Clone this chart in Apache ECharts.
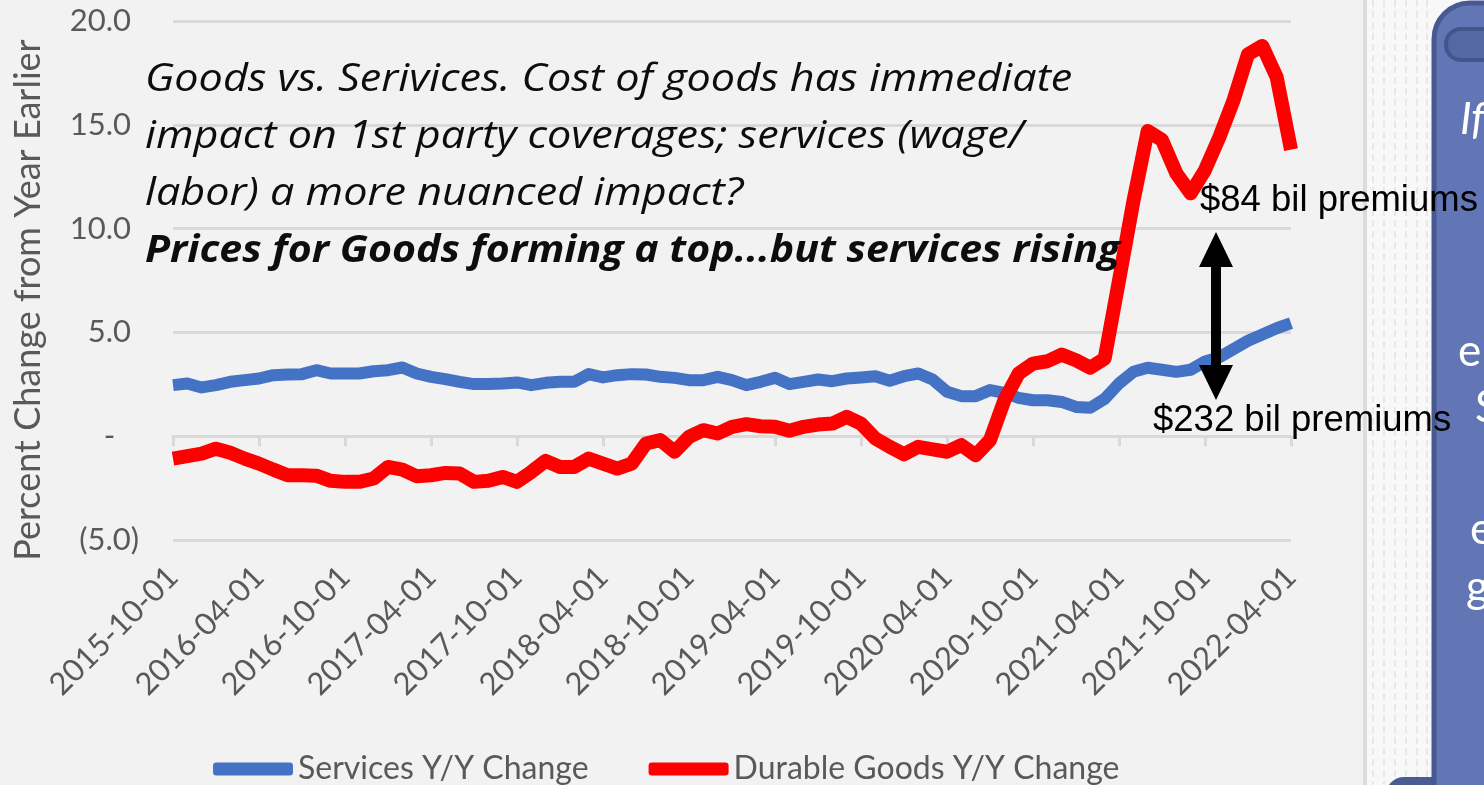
<!DOCTYPE html>
<html>
<head>
<meta charset="utf-8">
<script src="https://cdn.jsdelivr.net/npm/echarts@6/dist/echarts.min.js"></script>
<style>
  html, body { margin: 0; padding: 0; background: #F2F2F2; }
  #chart { width: 1484px; height: 785px; }
</style>
</head>
<body>
<div id="chart"></div>
<script>
// Monthly observations, first and last month of the range
const firstMonth = [2015, 10];
const lastMonth = [2022, 4];

// Year-over-year percent change, services prices
const servicesYoY = [
  2.46, 2.54, 2.35, 2.46, 2.62, 2.70, 2.78, 2.94, 2.97, 2.99,
  3.18, 3.02, 3.02, 3.02, 3.13, 3.18, 3.31, 3.02, 2.86, 2.75,
  2.62, 2.51, 2.51, 2.54, 2.59, 2.46, 2.57, 2.62, 2.62, 2.99,
  2.83, 2.94, 2.99, 2.97, 2.86, 2.81, 2.70, 2.70, 2.86, 2.70,
  2.46, 2.62, 2.81, 2.51, 2.62, 2.73, 2.65, 2.78, 2.83, 2.89,
  2.67, 2.89, 3.02, 2.73, 2.14, 1.93, 1.93, 2.22, 2.09, 1.85,
  1.73, 1.73, 1.65, 1.41, 1.37, 1.80, 2.54, 3.10, 3.30, 3.20,
  3.10, 3.20, 3.60, 3.80, 4.20, 4.60, 4.90, 5.20, 5.45
];

// Year-over-year percent change, durable goods prices
const durableGoodsYoY = [
  -1.08, -0.96, -0.84, -0.60, -0.80, -1.08, -1.32, -1.61, -1.88, -1.88,
  -1.90, -2.15, -2.20, -2.20, -2.04, -1.48, -1.61, -1.93, -1.88, -1.77,
  -1.80, -2.20, -2.15, -1.96, -2.20, -1.72, -1.19, -1.48, -1.48, -1.08,
  -1.32, -1.56, -1.32, -0.35, -0.19, -0.75, -0.03, 0.29, 0.13, 0.45,
  0.58, 0.48, 0.45, 0.26, 0.45, 0.56, 0.61, 0.93, 0.61, -0.11,
  -0.51, -0.87, -0.51, -0.63, -0.75, -0.43, -0.92, -0.19, 1.73, 3.02,
  3.50, 3.61, 3.93, 3.66, 3.30, 3.74, 7.50, 11.30, 14.70, 14.27,
  12.66, 11.70, 12.82, 14.40, 16.20, 18.40, 18.80, 17.30, 13.80
];

const seriesNames = ['Services Y/Y Change', 'Durable Goods Y/Y Change'];

const noteLines = [
  'Goods vs. Serivices. Cost of goods has immediate',
  'impact on 1st party coverages; services (wage/',
  'labor) a more nuanced impact?'
];
const noteHeadline = 'Prices for Goods forming a top...but services rising';
const premiumLabels = ['$84 bil premiums', '$232 bil premiums'];
const yAxisTitle = 'Percent Change from Year Earlier';
const sidePanelLetters = ['If', 'e', 'S', 'e', 'g'];

function buildMonths(from, to) {
  const out = [];
  let y = from[0], m = from[1];
  while (y < to[0] || (y === to[0] && m <= to[1])) {
    out.push(y + '-' + String(m).padStart(2, '0') + '-01');
    m++;
    if (m > 12) { m = 1; y++; }
  }
  return out;
}
const months = buildMonths(firstMonth, lastMonth);

const GRAY = '#595959';
const GRID = '#D9D9D9';
const SANS = 'Lato, "Open Sans", sans-serif';
const NOTE = '"Open Sans", Lato, sans-serif';
const ARIAL = '"Liberation Sans", Arial, sans-serif';

function formatY(v) {
  if (v < 0) return '(' + Math.abs(v).toFixed(1) + ')';
  if (v === 0) return '-   ';
  return v.toFixed(1) + ' ';
}

const chart = echarts.init(document.getElementById('chart'), null, { renderer: 'canvas' });

// Decorative slide panel on the right edge
const panel = [
  { type: 'rect', shape: { x: 1363, y: 0, width: 130, height: 785 }, style: { fill: '#F8F8F8' }, z: 1 },
  { type: 'rect', shape: { x: 1363, y: 0, width: 4, height: 785 }, style: { fill: '#DCDCDC' }, z: 2 }
];
[1373, 1384, 1395, 1406, 1417, 1427].forEach(function (x) {
  panel.push({ type: 'line', shape: { x1: x, y1: 0, x2: x, y2: 785 },
    style: { stroke: '#E8E8E8', lineWidth: 2, lineDash: [7, 4] }, z: 2 });
});
panel.push(
  { type: 'rect', shape: { x: 1386, y: 777, width: 160, height: 40, r: 18 }, style: { fill: '#4A5B92' }, z: 3 },
  { type: 'rect', shape: { x: 1434, y: 3, width: 90, height: 820, r: [36, 0, 0, 0] },
    style: { fill: '#6276B5', stroke: '#475992', lineWidth: 5 }, z: 4 },
  { type: 'rect', shape: { x: 1446, y: 29, width: 70, height: 31, r: 15 },
    style: { fill: '#5568A4', stroke: '#44558B', lineWidth: 4 }, z: 5 }
);
const letterSpots = [[1460, 120], [1458, 352], [1475, 408], [1470, 530], [1466, 588]];
sidePanelLetters.forEach(function (t, i) {
  panel.push({ type: 'text', x: letterSpots[i][0], y: letterSpots[i][1], z: 6,
    style: { text: t, font: (i === 0 ? 'italic ' : '') + '44px ' + SANS, fill: '#FFFFFF', verticalAlign: 'middle' } });
});

// Commentary block inside the plot (slightly widened lettering)
const notes = [];
noteLines.forEach(function (t, i) {
  notes.push({ type: 'text', x: 145, y: 80 + i * 57, z: 20, scaleX: 1.135,
    style: { text: t, font: 'italic 38px ' + NOTE, fill: '#0D0D0D', verticalAlign: 'middle' } });
});
notes.push({ type: 'text', x: 145, y: 251, z: 20, scaleX: 1.11,
  style: { text: noteHeadline, font: 'italic bold 37px ' + NOTE, fill: '#0D0D0D', verticalAlign: 'middle' } });

// Premium gap annotation with a double-headed arrow
const arrow = [
  { type: 'rect', shape: { x: 1211, y: 262, width: 10, height: 108 }, style: { fill: '#000' }, z: 20 },
  { type: 'polygon', shape: { points: [[1216, 232], [1233, 267], [1199, 267]] }, style: { fill: '#000' }, z: 20 },
  { type: 'polygon', shape: { points: [[1216, 400], [1233, 365], [1199, 365]] }, style: { fill: '#000' }, z: 20 },
  { type: 'text', x: 1200, y: 201, z: 21,
    style: { text: premiumLabels[0], font: '36.5px ' + ARIAL, fill: '#000', verticalAlign: 'middle' } },
  { type: 'text', x: 1153, y: 421, z: 21,
    style: { text: premiumLabels[1], font: '36.5px ' + ARIAL, fill: '#000', verticalAlign: 'middle' } }
];

const axisTitle = [{
  type: 'text', x: 28, y: 300, rotation: Math.PI / 2, z: 20,
  style: { text: yAxisTitle, font: '36px ' + SANS, fill: GRAY, align: 'center', verticalAlign: 'middle' }
}];

chart.setOption({
  backgroundColor: '#F2F2F2',
  animation: false,
  grid: { left: 173, right: 193, top: 21, bottom: 245, containLabel: false },
  legend: {
    data: seriesNames,
    left: 208,
    top: 748,
    icon: 'roundRect',
    itemWidth: 80,
    itemHeight: 13,
    itemGap: 60,
    textStyle: { color: GRAY, fontSize: 32, fontFamily: SANS }
  },
  xAxis: [
    {
      type: 'category',
      data: months,
      boundaryGap: false,
      position: 'bottom',
      axisLine: { show: false, onZero: false },
      axisTick: { show: false },
      splitLine: { show: false },
      axisLabel: {
        interval: 5,
        rotate: 45,
        margin: 32,
        color: GRAY,
        fontSize: 31,
        fontFamily: SANS
      }
    },
    {
      type: 'category',
      data: months,
      boundaryGap: false,
      position: 'bottom',
      axisLine: { show: true, onZero: true, lineStyle: { color: GRID, width: 3 } },
      axisTick: { show: true, interval: 5, length: 10, lineStyle: { color: GRID, width: 3 } },
      axisLabel: { show: false },
      splitLine: { show: false }
    }
  ],
  yAxis: {
    type: 'value',
    min: -5,
    max: 20,
    interval: 5,
    axisLine: { show: false },
    axisTick: { show: false },
    splitLine: { lineStyle: { color: GRID, width: 3 } },
    axisLabel: {
      formatter: formatY,
      margin: 34,
      color: GRAY,
      fontSize: 31,
      fontFamily: SANS
    }
  },
  series: [
    {
      name: seriesNames[0],
      type: 'line',
      data: servicesYoY,
      symbol: 'none',
      color: '#4472C4',
      lineStyle: { width: 12, cap: 'butt', join: 'round' },
      z: 3
    },
    {
      name: seriesNames[1],
      type: 'line',
      data: durableGoodsYoY,
      symbol: 'none',
      color: '#FF0000',
      lineStyle: { width: 14, cap: 'butt', join: 'round' },
      z: 4
    }
  ],
  graphic: { elements: panel.concat(notes, arrow, axisTitle) }
});
</script>
</body>
</html>
